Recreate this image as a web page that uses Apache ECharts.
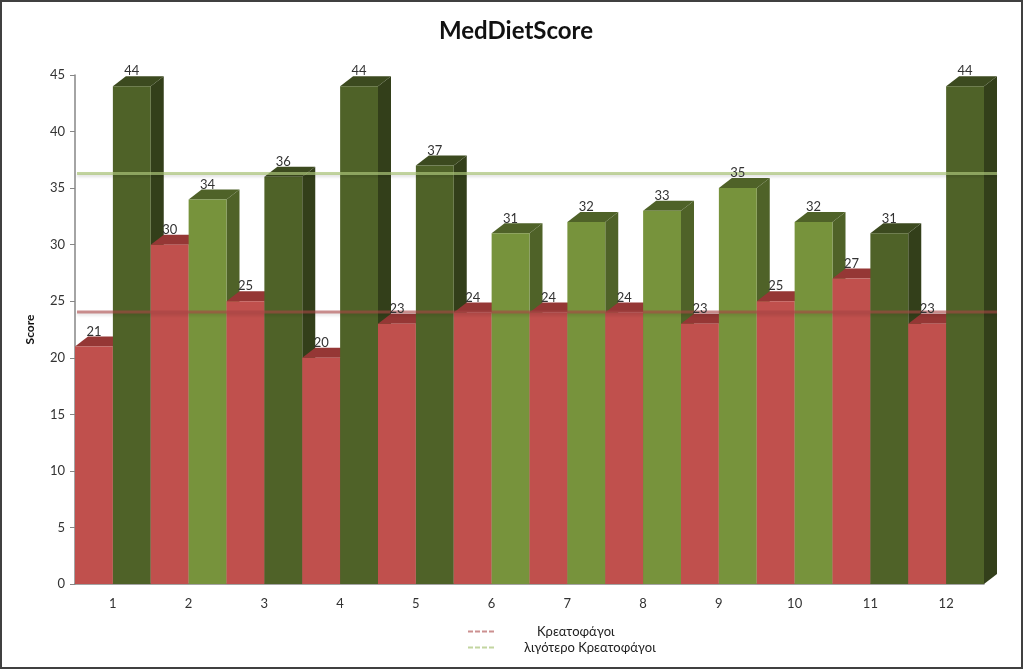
<!DOCTYPE html>
<html>
<head>
<meta charset="utf-8">
<title>MedDietScore</title>
<style>
  html, body { margin: 0; padding: 0; background: #fff; }
  #chart { width: 1024px; height: 670px; }
</style>
<script src="https://cdn.jsdelivr.net/npm/echarts@6/dist/echarts.min.js"></script>
</head>
<body>
<div id="chart"></div>
<script>
const categories = ['1', '2', '3', '4', '5', '6', '7', '8', '9', '10', '11', '12']
const meatScores = [21, 30, 25, 20, 23, 24, 24, 24, 23, 25, 27, 23]
const lessMeatScores = [44, 34, 36, 44, 37, 31, 32, 33, 35, 32, 31, 44]
const darkGreenCategories = ['1', '3', '4', '5', '11', '12']
const meatMean = [24.05]
const lessMeatMean = [36.3]

const MEAT_NAME = 'Κρεατοφάγοι'
const LESS_MEAT_NAME = 'λιγότερο Κρεατοφάγοι'
const FONT = 'Lato, "Noto Sans", sans-serif'

const DEPTH_X = 13
const DEPTH_Y = 10

const RED = { front: '#c0504d', top: '#953735', side: '#7f2f2d' }
const LIGHT_GREEN = { front: '#77933c', top: '#4f6228', side: '#4f6228' }
const DARK_GREEN = { front: '#4f6228', top: '#3c4a1f', side: '#333f1a' }

// one 3D box per value, later boxes paint over the side face of earlier ones
function boxRenderer(slot, paletteFor) {
  return (params, api) => {
    const i = params.dataIndex
    const band = api.size([1, 0])[0]
    const w = band / 2
    const [cx, y] = api.coord([i, api.value(1)])
    const y0 = api.coord([i, 0])[1]
    const x = cx - band / 2 + slot * w
    const c = paletteFor(i)
    const order = i * 2 + slot
    return {
      type: 'group',
      children: [
        {
          type: 'polygon', z2: order,
          shape: { points: [[x + w, y], [x + w + DEPTH_X, y - DEPTH_Y], [x + w + DEPTH_X, y0 - DEPTH_Y], [x + w, y0]] },
          style: { fill: c.side },
        },
        {
          type: 'polygon', z2: order,
          shape: { points: [[x, y], [x + DEPTH_X, y - DEPTH_Y], [x + w + DEPTH_X, y - DEPTH_Y], [x + w, y]] },
          style: { fill: c.top },
        },
        {
          type: 'rect', z2: order,
          shape: { x, y, width: w, height: y0 - y },
          style: { fill: c.front },
        },
        {
          type: 'text', z2: 200,
          x: x + w / 2, y: y - 15,
          style: {
            text: String(api.value(1)), fill: '#333',
            font: '13px ' + FONT, align: 'center', verticalAlign: 'middle',
          },
        },
      ],
    }
  }
}

// horizontal mean line across the plot, running on to the back of the last box
function meanRenderer(stroke) {
  return (params, api) => {
    const y = api.coord([0, api.value(0)])[1]
    const xa = params.coordSys.x
    const xb = xa + params.coordSys.width + DEPTH_X
    return {
      type: 'line', z2: 150,
      shape: { x1: xa + 2, y1: y, x2: xb, y2: y },
      style: { stroke, lineWidth: 3, shadowColor: 'rgba(0,0,0,0.18)', shadowBlur: 3, shadowOffsetY: 2 },
    }
  }
}

function boxSeries(name, values, slot, paletteFor) {
  return {
    type: 'custom', name, coordinateSystem: 'cartesian2d', animation: false, clip: false,
    data: values.map((v, i) => [i, v]),
    encode: { x: 0, y: 1 },
    renderItem: boxRenderer(slot, paletteFor),
  }
}

function meanSeries(name, values, stroke) {
  return {
    type: 'custom', name, coordinateSystem: 'cartesian2d', animation: false, clip: false,
    itemStyle: { color: stroke },
    data: values.map(v => [v]),
    encode: { y: 0 },
    renderItem: meanRenderer(stroke),
  }
}

const dashIcon = 'path://M0 0h5v2h-5zM7 0h5v2h-5zM14 0h5v2h-5zM21 0h5v2h-5z'

const chart = echarts.init(document.getElementById('chart'))
chart.setOption({
  animation: false,
  backgroundColor: '#fff',
  title: {
    text: 'MedDietScore', left: 511, top: 14, textAlign: 'center',
    textStyle: { fontFamily: FONT, fontSize: 24, fontWeight: 'bold', color: '#111' },
  },
  grid: { left: 75, right: 40, top: 75, bottom: 86 },
  legend: {
    orient: 'vertical', left: 463, top: 620, itemGap: 3, itemWidth: 28, itemHeight: 2,
    selectedMode: false, icon: dashIcon,
    textStyle: { fontFamily: FONT, fontSize: 13, color: '#222' },
    data: [
      { name: 'meat-mean', textStyle: { padding: [0, 0, 0, 37] } },
      { name: 'less-mean', textStyle: { padding: [0, 0, 0, 24] } },
    ],
    formatter: n => (n === 'meat-mean' ? MEAT_NAME : LESS_MEAT_NAME),
  },
  xAxis: {
    type: 'category', data: categories,
    axisLine: { lineStyle: { color: '#868686', width: 1.5 } },
    axisTick: { show: false },
    axisLabel: { color: '#333', fontFamily: FONT, fontSize: 13, margin: 13 },
  },
  yAxis: {
    type: 'value', min: 0, max: 45, interval: 5,
    name: 'Score', nameLocation: 'middle', nameGap: 39, nameRotate: 90,
    nameTextStyle: { fontFamily: FONT, fontSize: 12, fontWeight: 'bold', color: '#111' },
    splitLine: { show: false },
    axisLine: { show: true, lineStyle: { color: '#868686', width: 1.5 } },
    axisTick: { show: true, length: 5, lineStyle: { color: '#868686' } },
    axisLabel: { color: '#333', fontFamily: FONT, fontSize: 13, margin: 10 },
  },
  graphic: [{
    type: 'rect', silent: true, z: 100,
    shape: { x: 1, y: 1, width: 1021, height: 667 },
    style: { fill: 'none', stroke: '#404040', lineWidth: 2 },
  }],
  series: [
    boxSeries('meat', meatScores, 0, () => RED),
    boxSeries('less', lessMeatScores, 1, i => (darkGreenCategories.includes(categories[i]) ? DARK_GREEN : LIGHT_GREEN)),
    meanSeries('meat-mean', meatMean, 'rgba(170,70,70,0.6)'),
    meanSeries('less-mean', lessMeatMean, 'rgba(170,195,120,0.7)'),
  ],
})

window.addEventListener('resize', () => chart.resize())
</script>
</body>
</html>
